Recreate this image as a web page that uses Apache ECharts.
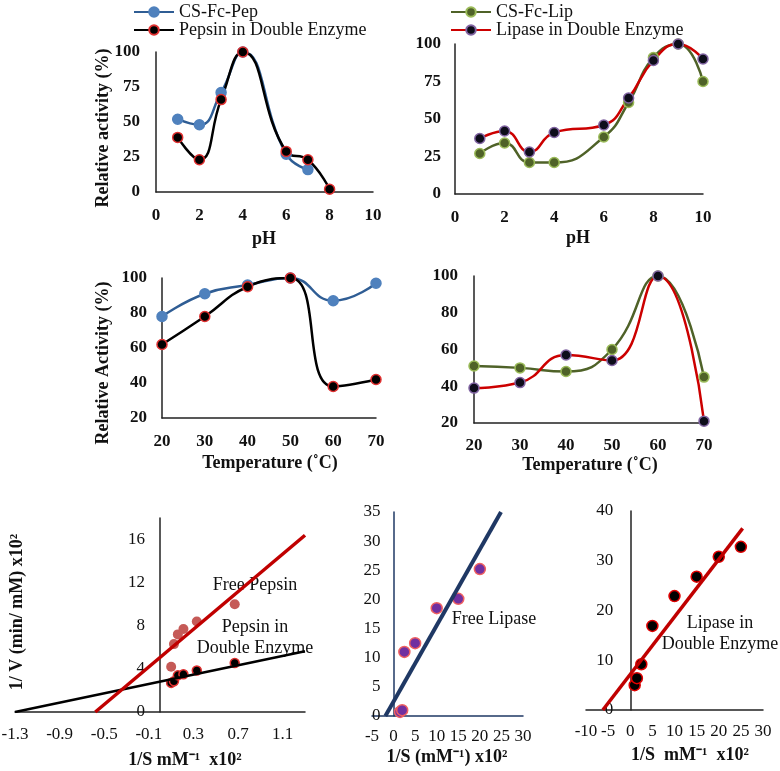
<!DOCTYPE html>
<html>
<head>
<meta charset="utf-8">
<script src="https://cdn.jsdelivr.net/npm/echarts@6/dist/echarts.min.js"></script>
<style>
  html, body { margin: 0; padding: 0; background: #fff; }
  #chart { width: 780px; height: 771px; }
</style>
</head>
<body>
<div id="chart"></div>
<script>
// --- pH profiles ---
const phPep = [1, 2, 3, 4, 6, 7]
const csFcPep = [52, 48, 71, 100, 27, 16]
const phPepDouble = [1, 2, 3, 4, 6, 7, 8]
const pepDouble = [39, 23, 66, 100, 29, 23, 2]
const phLip = [1, 2, 3, 4, 6, 7, 8, 9, 10]
const csFcLip = [27, 34, 21, 21, 38, 61, 91, 100, 75]
const lipDouble = [37, 42, 28, 41, 46, 64, 89, 100, 90]

// --- temperature profiles ---
const temps = [20, 30, 40, 50, 60, 70]
const csFcPepT = [78, 91, 96, 100, 87, 97]
const pepDoubleT = [62, 78, 95, 100, 38, 42]
const csFcLipT = [51, 50, 48, 60, 100, 45]
const lipDoubleT = [39, 42, 57, 54, 100, 21]

// --- Lineweaver-Burk: pepsin ---
const invSPep = [0.1, 0.125, 0.16, 0.21, 0.33, 0.67]
const freePepsinInvV = [4.2, 6.3, 7.2, 7.7, 8.4, 10.0]
const doublePepsinInvV = [2.7, 2.85, 3.4, 3.5, 3.85, 4.55]
const freePepsinFit = [[-0.58, 0], [1.3, 16.4]]
const doublePepsinFit = [[-1.3, 0], [1.3, 5.63]]

// --- Lineweaver-Burk: lipase ---
const invSFreeLip = [1.5, 2, 2.5, 5, 10, 15, 20]
const freeLipaseInvV = [0.7, 1.0, 11, 12.5, 18.5, 20.1, 25.2]
const freeLipaseFit = [[-1.9, 0], [24.9, 35]]
const invSDoubleLip = [1, 1.5, 2.5, 5, 10, 15, 20, 25]
const doubleLipaseInvV = [5.0, 6.4, 9.2, 16.9, 22.9, 26.8, 30.8, 32.8]
const doubleLipaseFit = [[-6.2, 0], [25.4, 36.5]]

const pairs = (xs, ys) => xs.map((x, i) => [x, ys[i]])

const SERIF = '"Liberation Serif", "Times New Roman", serif'

const grids = [
  { left: 156, top: 52, width: 217, height: 140 },
  { left: 455, top: 44, width: 248, height: 150 },
  { left: 162, top: 278, width: 214, height: 140 },
  { left: 474, top: 276, width: 230, height: 147 },
  { left: 15, top: 518, width: 290, height: 194 },
  { left: 372, top: 512, width: 151, height: 204 },
  { left: 586, top: 511, width: 177, height: 199 }
]

function axis(gridIndex, min, max, interval, opts) {
  opts = opts || {}
  return {
    type: 'value',
    gridIndex: gridIndex,
    min: min,
    max: max,
    interval: interval,
    offset: opts.offset || 0,
    splitLine: { show: false },
    axisTick: { show: false },
    axisLine: { onZero: false, lineStyle: { color: opts.lineColor || '#222', width: 1.5 } },
    axisLabel: {
      fontFamily: SERIF,
      fontSize: 17,
      fontWeight: opts.bold ? 'bold' : 'normal',
      color: '#111',
      margin: opts.margin || 14,
      showMaxLabel: opts.showMax !== false,
      formatter: opts.formatter
    }
  }
}

// shift a left y axis so it crosses the x axis at zero
const zeroOffset = (gi, min, max) => -(0 - min) / (max - min) * grids[gi].width

function text(str, x, y, opts) {
  opts = opts || {}
  return {
    type: 'text',
    x: x,
    y: y,
    rotation: opts.rotate ? Math.PI / 2 : 0,
    z: 0,
    style: {
      text: str,
      font: (opts.bold ? 'bold ' : '') + '18px ' + SERIF,
      fill: '#111',
      align: 'center',
      verticalAlign: 'middle',
      textAlign: 'center',
      textVerticalAlign: 'middle'
    }
  }
}

const curve = (name, data, xi, line, fill, border) => ({
  name: name,
  type: 'line',
  xAxisIndex: xi,
  yAxisIndex: xi,
  data: data,
  smooth: 0.5,
  symbol: 'circle',
  symbolSize: 10,
  lineStyle: { color: line, width: 2.5 },
  itemStyle: { color: fill, borderColor: border, borderWidth: 1.5 }
})

const fitLine = (data, xi, color, width) => ({
  type: 'line',
  xAxisIndex: xi,
  yAxisIndex: xi,
  data: data,
  symbol: 'none',
  silent: true,
  lineStyle: { color: color, width: width }
})

const dots = (data, xi, fill, border, size) => ({
  type: 'scatter',
  xAxisIndex: xi,
  yAxisIndex: xi,
  data: data,
  symbolSize: size,
  itemStyle: { color: fill, borderColor: border, borderWidth: border ? 1.5 : 0, opacity: 1 }
})

const BLUE_LINE = '#2f5d94', BLUE = '#4f81bd'
const GREEN = '#4f6228', GREEN_EDGE = '#9bbb59'
const RED = '#c00000'

const chart = echarts.init(document.getElementById('chart'))

const legendBase = {
  orient: 'vertical',
  top: -2,
  itemWidth: 40,
  itemHeight: 12,
  itemGap: 0,
  textStyle: { fontFamily: SERIF, fontSize: 18, color: '#111', lineHeight: 17 }
}

const option = {
  animation: false,
  backgroundColor: '#fff',
  grid: grids.map(g => Object.assign({ containLabel: false, outerBoundsMode: 'none' }, g)),
  legend: [
    Object.assign({ data: ['CS-Fc-Pep', 'Pepsin in Double Enzyme'], left: 128 }, legendBase),
    Object.assign({ data: ['CS-Fc-Lip', 'Lipase in Double Enzyme'], left: 445 }, legendBase)
  ],
  xAxis: [
    axis(0, 0, 10, 2, { bold: true, margin: 15 }),
    axis(1, 0, 10, 2, { bold: true, margin: 15 }),
    axis(2, 20, 70, 10, { bold: true, margin: 15 }),
    axis(3, 20, 70, 10, { bold: true, margin: 14 }),
    axis(4, -1.3, 1.3, 0.4, { margin: 14, showMax: false, formatter: v => (+v).toFixed(1) }),
    axis(5, -5, 30, 5, { margin: 12, lineColor: '#1f3864' }),
    axis(6, -10, 30, 5, { margin: 13 })
  ],
  yAxis: [
    axis(0, 0, 100, 25, { bold: true, margin: 16 }),
    axis(1, 0, 100, 25, { bold: true, margin: 14 }),
    axis(2, 20, 100, 20, { bold: true, margin: 15 }),
    axis(3, 20, 100, 20, { bold: true, margin: 16 }),
    axis(4, 0, 18, 4, { margin: 15, showMax: false, offset: zeroOffset(4, -1.3, 1.3) }),
    axis(5, 0, 35, 5, { margin: 13, lineColor: '#1f3864', offset: zeroOffset(5, -5, 30) }),
    axis(6, 0, 40, 10, { margin: 17, offset: zeroOffset(6, -10, 30) })
  ],
  graphic: [
    text('Relative activity (%)', 103, 128, { bold: true, rotate: true }),
    text('pH', 264, 239, { bold: true }),
    text('pH', 578, 238, { bold: true }),
    text('Relative Activity (%)', 103, 363, { bold: true, rotate: true }),
    text('Temperature (˚C)', 270, 463, { bold: true }),
    text('Temperature (˚C)', 590, 465, { bold: true }),
    text('1/ V (min/ mM) x10²', 17, 612, { bold: true, rotate: true }),
    text('1/S mM⁻¹  x10²', 185, 760, { bold: true }),
    text('1/S (mM⁻¹) x10²', 447, 757, { bold: true }),
    text('1/S  mM⁻¹  x10²', 690, 755, { bold: true }),
    text('Free Pepsin', 255, 585),
    text('Pepsin in', 255, 627),
    text('Double Enzyme', 255, 648),
    text('Free Lipase', 494, 619),
    text('Lipase in', 720, 623),
    text('Double Enzyme', 720, 644)
  ],
  series: [
    curve('CS-Fc-Pep', pairs(phPep, csFcPep), 0, BLUE_LINE, BLUE, BLUE),
    curve('Pepsin in Double Enzyme', pairs(phPepDouble, pepDouble), 0, '#000', '#000', '#e03030'),
    curve('CS-Fc-Lip', pairs(phLip, csFcLip), 1, GREEN, GREEN, GREEN_EDGE),
    curve('Lipase in Double Enzyme', pairs(phLip, lipDouble), 1, '#cc0000', '#0d0d1a', '#8064a2'),
    curve('CS-Fc-Pep', pairs(temps, csFcPepT), 2, BLUE_LINE, BLUE, BLUE),
    curve('Pepsin in Double Enzyme', pairs(temps, pepDoubleT), 2, '#000', '#000', '#e03030'),
    curve('CS-Fc-Lip', pairs(temps, csFcLipT), 3, GREEN, GREEN, GREEN_EDGE),
    curve('Lipase in Double Enzyme', pairs(temps, lipDoubleT), 3, '#cc0000', '#0d0d1a', '#8064a2'),

    fitLine(doublePepsinFit, 4, '#000', 2.5),
    fitLine(freePepsinFit, 4, RED, 3.5),
    dots(pairs(invSPep, freePepsinInvV), 4, '#c55a57', null, 10),
    dots(pairs(invSPep, doublePepsinInvV), 4, '#000', '#e03030', 9),

    fitLine(freeLipaseFit, 5, '#1f3864', 4),
    dots(pairs(invSFreeLip, freeLipaseInvV), 5, '#7030a0', '#f06060', 11),

    fitLine(doubleLipaseFit, 6, RED, 3.5),
    dots(pairs(invSDoubleLip, doubleLipaseInvV), 6, '#000', '#e00000', 11)
  ]
}

chart.setOption(option)
</script>
</body>
</html>
